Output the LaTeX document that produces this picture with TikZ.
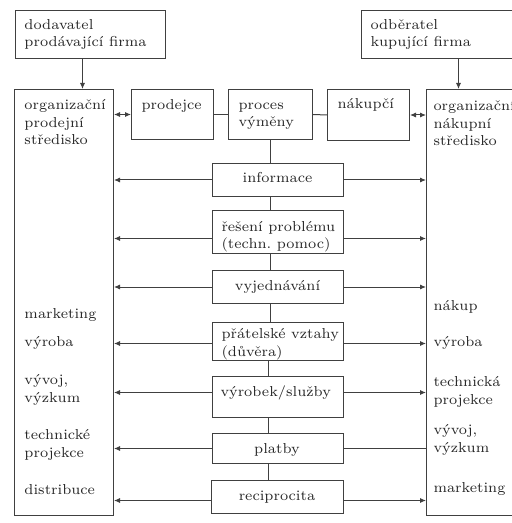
\documentclass[tikz,border=0pt]{standalone}
\usetikzlibrary{arrows.meta}

\begin{document}
\begin{tikzpicture}[x=0.5pt,y=-0.5pt,>={Latex[length=3pt,width=2.6pt]},
  font=\fontsize{7.2}{8.8}\selectfont,line width=0.5pt,
  box/.style={draw=black!75,anchor=north west,inner sep=0pt},
  lbl/.style={anchor=base west,inner sep=0pt,align=left,text=black!85},
  clbl/.style={anchor=base,inner sep=0pt,text=black!85},
  con/.style={draw=black!75},
  arr/.style={draw=black!75,->},
  darr/.style={draw=black!75,<->}]
\clip (0,0) rectangle (512,523);
% firmy nahore (u viceradkovych textu je base na poslednim radku)
\node[box,minimum width=75pt,minimum height=24pt] (sup) at (15,10) {};
\node[lbl] (suptxt) at (24,47) {dodavatel\\prodávající firma};
\node[box,minimum width=90pt,minimum height=24pt] (cust) at (361,10) {};
\node[lbl] (custtxt) at (370,47) {odběratel\\kupující firma};
% strediska
\node[box,minimum width=49.5pt,minimum height=213pt] (lorg) at (14,89) {};
\node[lbl] (lorgtxt) at (24,145) {organizační\\prodejní\\středisko};
\node[box,minimum width=100pt,minimum height=213pt] (rorg) at (426,89) {};
\node[lbl] (rorgtxt) at (433,146) {organizační\\nákupní\\středisko};
% horni rada
\node[box,minimum width=41pt,minimum height=25pt] (prod) at (131,89) {};
\node[lbl] (prodtxt) at (141,110) {prodejce};
\node[box,minimum width=42pt,minimum height=25pt] (proc) at (228,89) {};
\node[lbl] (proctxt) at (238,127) {proces\\výměny};
\node[box,minimum width=41pt,minimum height=25.5pt] (nak) at (327,89) {};
\node[lbl] (naktxt) at (337,109) {nákupčí};
% prvky vymeny
\node[box,minimum width=65.5pt,minimum height=16.5pt] (info) at (212,163) {};
\node[clbl] (infotxt) at (277.5,183) {informace};
\node[box,minimum width=65.5pt,minimum height=21.5pt] (res) at (212,210) {};
\node[lbl] (restxt) at (221,249) {řešení problému\\(techn.\ pomoc)};
\node[box,minimum width=65.5pt,minimum height=16.5pt] (vyj) at (212,270) {};
\node[clbl] (vyjtxt) at (277.5,290) {vyjednávání};
\node[box,minimum width=65.5pt,minimum height=19pt] (prat) at (212,322) {};
\node[lbl] (prattxt) at (221,356) {přátelské vztahy\\(důvěra)};
\node[box,minimum width=65.5pt,minimum height=20.5pt] (vyr) at (212,376) {};
\node[lbl] (vyrtxt) at (220,396) {výrobek/služby};
\node[box,minimum width=65.5pt,minimum height=15pt] (plat) at (212,433) {};
\node[clbl] (plattxt) at (277,453) {platby};
\node[box,minimum width=66pt,minimum height=16.5pt] (reci) at (211,480) {};
\node[clbl] (recitxt) at (277,500) {reciprocita};
% funkce stredisek
\node[lbl] (lmark) at (24,318) {marketing};
\node[lbl] (lvyr) at (24,346) {výroba};
\node[lbl] (lvyv) at (24,402) {vývoj,\\výzkum};
\node[lbl] (ltech) at (24,457) {technické\\projekce};
\node[lbl] (ldist) at (24,494) {distribuce};
\node[lbl] (rnak) at (433,310) {nákup};
\node[lbl] (rvyr) at (433,346) {výroba};
\node[lbl] (rtech) at (433,404) {technická\\projekce};
\node[lbl] (rvyv) at (433,452) {vývoj,\\výzkum};
\node[lbl] (rmark) at (433,492) {marketing};
% spojnice
\draw[arr] ([xshift=-4pt]sup.south) -- ([xshift=-4pt]sup.south |- lorg.north);
\draw[arr] ([xshift=3.5pt]cust.south) -- ([xshift=3.5pt]cust.south |- rorg.north);
\draw[darr] (lorg.east |- prod.west) -- (prod.west);
\draw[darr] (nak.east) -- (nak.east -| rorg.west);
\draw[con] (prod.east) -- (proc.west);
\draw[con] (proc.east) -- (nak.west);
\draw[con] (proc.south) -- (proc.south |- info.north);
\draw[con] (info.south -| proc.south) -- (res.north -| proc.south);
\draw[con] (res.south -| proc.south) -- (vyj.north -| proc.south);
\draw[con] (vyj.south -| proc.south) -- (prat.north -| proc.south);
\draw[con] ([xshift=-1pt]prat.south -| proc.south) -- ([xshift=-1pt]vyr.north -| proc.south);
\draw[con] ([xshift=-1pt]vyr.south -| proc.south) -- ([xshift=-1pt]plat.north -| proc.south);
\draw[con] ([xshift=-1pt]plat.south -| proc.south) -- ([xshift=-1pt]reci.north -| proc.south);
% sipky ke strediskum
\draw[arr] (info.west) -- (info.west -| lorg.east);
\draw[arr] (info.east) -- (info.east -| rorg.west);
\draw[arr] ([yshift=-3.25pt]res.west) -- ([yshift=-3.25pt]res.west -| lorg.east);
\draw[arr] ([yshift=-3.25pt]res.east) -- ([yshift=-3.25pt]res.east -| rorg.west);
\draw[arr] (vyj.west) -- (vyj.west -| lorg.east);
\draw[arr] (vyj.east) -- (vyj.east -| rorg.west);
\draw[arr] ([yshift=-1pt]prat.west) -- ([yshift=-1pt]prat.west -| lorg.east);
\draw[arr] ([yshift=-1pt]prat.east) -- ([yshift=-1pt]prat.east -| rorg.west);
\draw[arr] ([yshift=2.25pt]vyr.west) -- ([yshift=2.25pt]vyr.west -| lorg.east);
\draw[arr] ([yshift=2.25pt]vyr.east) -- ([yshift=2.25pt]vyr.east -| rorg.west);
\draw[arr] (plat.west) -- (plat.west -| lorg.east);
\draw[con] (plat.east) -- (plat.east -| rorg.west);
\draw[arr] ([yshift=-1.75pt]reci.west) -- ([yshift=-1.75pt]reci.west -| lorg.east);
\draw[arr] ([yshift=-1.75pt]reci.east) -- ([yshift=-1.75pt]reci.east -| rorg.west);
\end{tikzpicture}
\end{document}
